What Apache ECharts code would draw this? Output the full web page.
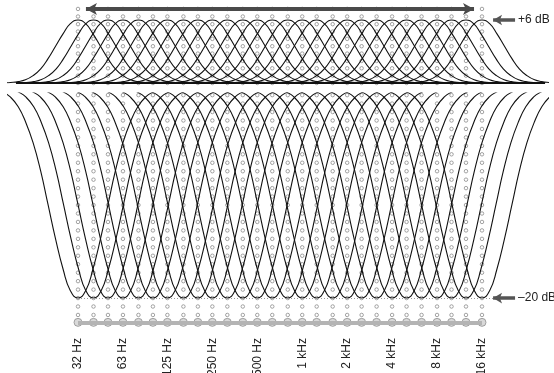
<!DOCTYPE html>
<html>
<head>
<meta charset="utf-8">
<script src="https://cdn.jsdelivr.net/npm/echarts@6/dist/echarts.min.js"></script>
<style>
    html, body { margin: 0; padding: 0; background: #fff; }
    #eq-chart { width: 554px; height: 373px; }
</style>
</head>
<body>
<div id="eq-chart"></div>
<script>
// 1/3-octave band centres (Hz)
const bandFreqs = [31.5, 40, 50, 63, 80, 100, 125, 160, 200, 250, 315, 400, 500, 630, 800,
    1000, 1250, 1600, 2000, 2500, 3150, 4000, 5000, 6300, 8000, 10000, 12500, 16000];

const tickFreqs = [31.5, 63, 125, 250, 500, 1000, 2000, 4000, 8000, 16000];
const tickLabels = ["32 Hz", "63 Hz", "125 Hz", "250 Hz", "500 Hz", "1 kHz", "2 kHz", "4 kHz", "8 kHz", "16 kHz"];

// one side of each curve: [octaves away from the centre, dB]
const boostProfile = [[0, 6], [0.17, 5.65], [0.33, 4.7], [0.5, 3.5], [0.67, 2.3], [0.83, 1.35],
    [1, 0.7], [1.17, 0.3], [1.33, 0.13], [1.5, 0.05], [1.67, 0]];
const cutProfile = [[0, -20], [0.17, -19.3], [0.33, -17.3], [0.5, -14.4], [0.67, -11.1], [0.83, -8],
    [1, -5.3], [1.17, -3.3], [1.33, -1.9], [1.5, -1], [1.67, -0.5], [1.83, -0.2]];

// dotted guide marks in each band column (dB)
const boostDots = [0, 0.7, 1.4, 2.1, 2.8, 3.5, 4.2, 4.9, 5.6, 6.33, 7.05];
const cutDots = [-0.8, -1.6, -2.4, -3.2, -4, -4.8, -5.6, -6.4, -7.2, -8, -8.8, -9.6, -10.4, -11.2,
    -12, -12.8, -13.6, -14.4, -15.2, -16, -16.8, -17.6, -18.4, -19.2, -20, -20.8, -21.6];
const chainLevel = -22.3;

const baselineHz = [12.1, 42300];
const spanArrowHz = [35.6, 14150];
const spanArrowDb = 7.05;
const sideArrowHz = [18980, 26640];

function curve(fc, profile) {
    const left = profile.slice(1).reverse().map((p) => [fc / Math.pow(2, p[0]), p[1]]);
    const right = profile.map((p) => [fc * Math.pow(2, p[0]), p[1]]);
    return left.concat(right);
}

function column(levels) {
    const out = [];
    bandFreqs.forEach((f) => levels.forEach((db) => out.push([f, db])));
    return out;
}

const xBase = {
    type: "log", logBase: 2, min: 10.7, max: 43600,
    axisLine: { show: false }, axisTick: { show: false }, splitLine: { show: false }
};
const yBase = { type: "value", show: false, splitLine: { show: false } };

const series = [];

const dotStyle = { color: "#fff", borderColor: "#8c8c8c", borderWidth: 1 };
series.push({
    type: "scatter", xAxisIndex: 0, yAxisIndex: 0, clip: false, silent: true,
    symbol: "circle", symbolSize: 3.5, itemStyle: dotStyle, data: column(boostDots), z: 1
});
series.push({
    type: "scatter", xAxisIndex: 1, yAxisIndex: 1, clip: false, silent: true,
    symbol: "circle", symbolSize: 3.5, itemStyle: dotStyle, data: column(cutDots), z: 1
});

bandFreqs.forEach((f) => {
    series.push({
        type: "line", xAxisIndex: 0, yAxisIndex: 0, smooth: true, showSymbol: false, silent: true,
        lineStyle: { color: "#111", width: 1.1 }, data: curve(f, boostProfile), z: 3
    });
    series.push({
        type: "line", xAxisIndex: 1, yAxisIndex: 1, smooth: true, showSymbol: false, silent: true,
        lineStyle: { color: "#111", width: 1.1 }, data: curve(f, cutProfile), z: 3
    });
});

// bottom chain of grey blobs
series.push({
    type: "scatter", xAxisIndex: 1, yAxisIndex: 1, clip: false, silent: true,
    symbol: "circle", symbolSize: 8,
    itemStyle: { color: "#cfcfcf", borderColor: "#8f8f8f", borderWidth: 1 },
    data: bandFreqs.map((f) => [f, chainLevel]), z: 4,
    markLine: {
        silent: true, symbol: ["none", "none"], label: { show: false },
        lineStyle: { color: "#b4b4b4", width: 4, type: "solid" },
        data: [[{ coord: [bandFreqs[0], chainLevel] }, { coord: [bandFreqs[bandFreqs.length - 1], chainLevel] }]]
    }
});

// top baseline and span arrow
series.push({
    type: "line", xAxisIndex: 0, yAxisIndex: 0, data: [], silent: true,
    markLine: {
        silent: true, symbol: ["none", "none"], label: { show: false },
        lineStyle: { color: "#111", width: 2, type: "solid" },
        data: [[{ coord: [baselineHz[0], 0] }, { coord: [baselineHz[1], 0] }]]
    }
});
series.push({
    type: "line", xAxisIndex: 0, yAxisIndex: 0, data: [], silent: true,
    markLine: {
        silent: true, symbol: ["arrow", "arrow"], symbolSize: [9, 11], label: { show: false },
        lineStyle: { color: "#4a4a4a", width: 4, type: "solid" },
        data: [[{ coord: [spanArrowHz[0], spanArrowDb] }, { coord: [spanArrowHz[1], spanArrowDb] }]]
    }
});

// side pointers
const sideLabel = { show: true, position: "end", distance: 3, color: "#222", fontSize: 12 };
series.push({
    type: "line", xAxisIndex: 0, yAxisIndex: 0, data: [], silent: true,
    markLine: {
        silent: true, symbol: ["arrow", "none"], symbolSize: [8, 9],
        lineStyle: { color: "#555", width: 3.5, type: "solid" },
        label: Object.assign({ formatter: "+6 dB" }, sideLabel),
        data: [[{ coord: [sideArrowHz[0], 6] }, { coord: [sideArrowHz[1], 6] }]]
    }
});
series.push({
    type: "line", xAxisIndex: 1, yAxisIndex: 1, data: [], silent: true,
    markLine: {
        silent: true, symbol: ["arrow", "none"], symbolSize: [8, 9],
        lineStyle: { color: "#555", width: 3.5, type: "solid" },
        label: Object.assign({ formatter: "–20 dB" }, sideLabel),
        data: [[{ coord: [sideArrowHz[0], -20] }, { coord: [sideArrowHz[1], -20] }]]
    }
});
series.push({
    type: "line", xAxisIndex: 1, yAxisIndex: 1, data: [], silent: true,
    markLine: {
        silent: true, symbol: ["none", "none"], label: { show: false },
        lineStyle: { color: "#999", width: 1, type: [1, 2] },
        data: [[{ coord: [bandFreqs[0], -20] }, { coord: [sideArrowHz[0], -20] }]]
    }
});

const chart = echarts.init(document.getElementById("eq-chart"));
chart.setOption({
    animation: false,
    textStyle: { fontFamily: "Liberation Sans, Arial, sans-serif" },
    grid: [
        { left: 8, right: 7, top: 6, height: 77, outerBoundsMode: "none" },
        { left: 8, right: 7, top: 93, height: 230, outerBoundsMode: "none" }
    ],
    xAxis: [
        Object.assign({ gridIndex: 0, axisLabel: { show: false } }, xBase),
        Object.assign({
            gridIndex: 1,
            axisLabel: {
                show: true, rotate: 90, margin: 15, fontSize: 12, color: "#222",
                customValues: tickFreqs,
                formatter: (v) => {
                    let best = 0;
                    tickFreqs.forEach((t, i) => {
                        if (Math.abs(Math.log(t / v)) < Math.abs(Math.log(tickFreqs[best] / v))) best = i;
                    });
                    return tickLabels[best];
                }
            }
        }, xBase)
    ],
    yAxis: [
        Object.assign({ gridIndex: 0, min: 0, max: 7.33 }, yBase),
        Object.assign({ gridIndex: 1, min: -22.36, max: -0.6 }, yBase)
    ],
    series: series
});
</script>
</body>
</html>
